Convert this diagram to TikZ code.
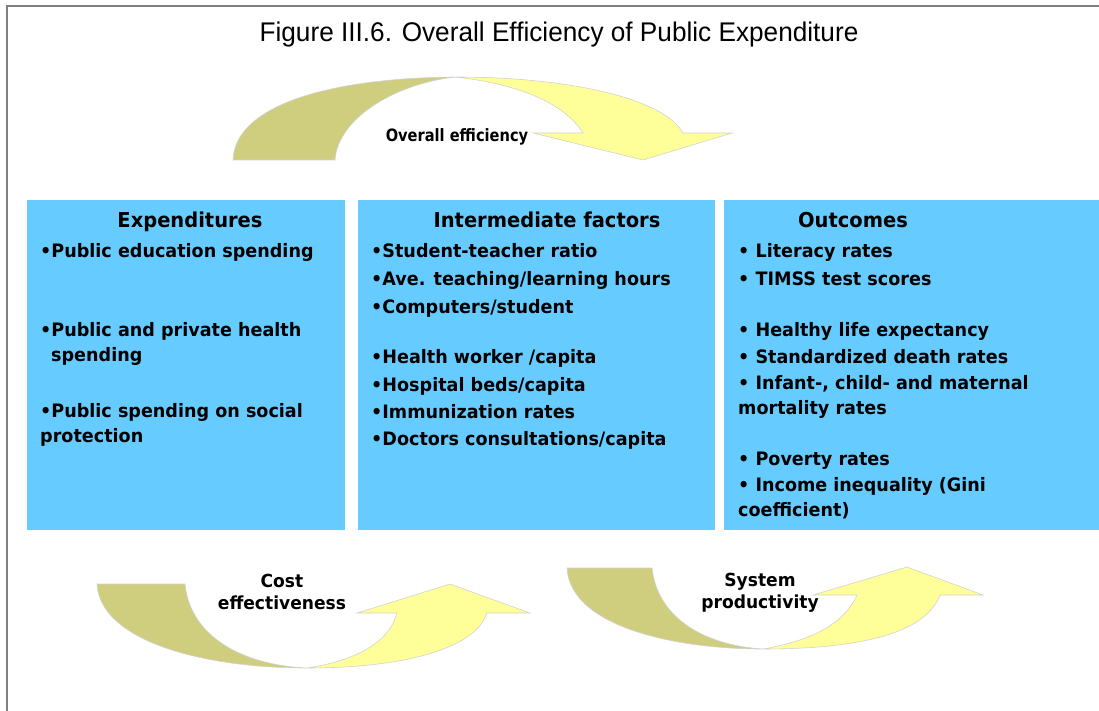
\documentclass[tikz,border=0pt]{standalone}
\usepackage{fontspec}
\setmainfont{Liberation Sans}[FakeStretch=0.97]
\newfontfamily\boxfont[FakeStretch=0.95]{DejaVu Sans}
\newfontfamily\tagfont[FakeStretch=0.86]{DejaVu Sans}
\usetikzlibrary{positioning}

\definecolor{boxblue}{RGB}{102,204,255}
\definecolor{olive}{RGB}{206,206,126}
\definecolor{paleyellow}{RGB}{255,255,153}
\definecolor{framegray}{RGB}{128,128,128}

\tikzset{
  panel/.style={fill=boxblue, draw=none},
  heading/.style={font=\boxfont\bfseries\fontsize{20.5}{24}\selectfont, anchor=base, inner sep=0pt},
  entry/.style={font=\boxfont\bfseries\fontsize{18.5}{24.5}\selectfont, anchor=base west, inner sep=0pt, align=left},
  backband/.style={fill=olive, draw=gray!35, line width=0.6pt},
  frontband/.style={fill=paleyellow, draw=gray!35, line width=0.6pt},
  arrowlabel/.style={font=\boxfont\bfseries\fontsize{18}{22}\selectfont, align=center, inner sep=0pt}
}

\begin{document}
\begin{tikzpicture}[x=1pt, y=-1pt]
  \useasboundingbox (0,0) rectangle (1099,711);

  % frame
  \draw[framegray, line width=2pt] (6.5,711) -- (6.5,6) -- (1099,6);

  % title
  \node[font=\fontsize{27}{32}\selectfont, anchor=base] (title) at (559,42)
    {Figure III.6. Overall Efficiency of Public Expenditure};

  % the three panels
  \fill[panel] (27,200) rectangle (345,530);
  \fill[panel] (358,200) rectangle (715,530);
  \fill[panel] (724,200) rectangle (1099,530);

  \node[heading] (exphead) at (190,228) {Expenditures};
  \node[heading] (inthead) at (547,228) {Intermediate factors};
  \node[heading] (outhead) at (853,228) {Outcomes};

  % Expenditures (two-line entries sit on their last line)
  \node[entry] (e1) at (40,258) {\textbullet Public education spending};
  \node[entry] (e2) at (40,361) {\textbullet Public and private health\\\hspace*{11pt}spending};
  \node[entry] (e3) at (40,442) {\textbullet Public spending on social\\protection};

  % Intermediate factors
  \foreach \y/\txt [count=\i] in {258/{Student-teacher ratio},
      285/{Ave. teaching/learning hours},
      313/{Computers/student},
      363/{Health worker /capita},
      391/{Hospital beds/capita},
      418/{Immunization rates},
      445/{Doctors consultations/capita}} {
    \node[entry] (f\i) at (371,\y) {\textbullet\txt};
  }

  % Outcomes
  \node[entry] (o1) at (738,258) {\textbullet{} Literacy rates};
  \node[entry] (o2) at (738,285) {\textbullet{} TIMSS test scores};
  \node[entry] (o3) at (738,336) {\textbullet{} Healthy life expectancy};
  \node[entry] (o4) at (738,363) {\textbullet{} Standardized death rates};
  \node[entry] (o5) at (738,414) {\textbullet{} Infant-, child- and maternal\\mortality rates};
  \node[entry] (o6) at (738,465) {\textbullet{} Poverty rates};
  \node[entry] (o7) at (738,516) {\textbullet{} Income inequality (Gini\\coefficient)};

  % overall efficiency arrow
  \filldraw[backband] (233,160) .. controls (235,105) and (330,78) .. (455,77)
    .. controls (395,84) and (338,118) .. (335,160) -- cycle;
  \filldraw[frontband] (455,77) .. controls (575,77) and (665,100) .. (683,133)
    -- (732,133) -- (643,160) -- (533,133) -- (583,133)
    .. controls (565,104) and (520,84) .. (455,77) -- cycle;
  \node[arrowlabel, font=\tagfont\bfseries\fontsize{17}{22}\selectfont] (overall) at (457,137) {Overall efficiency};

  % cost effectiveness arrow
  \filldraw[backband] (97,584) .. controls (100,640) and (200,668) .. (307,668)
    .. controls (240,665) and (190,635) .. (185,584) -- cycle;
  \filldraw[frontband] (307,668) .. controls (360,660) and (390,640) .. (397,613)
    -- (357,613) -- (450,584) -- (530,613) -- (487,613)
    .. controls (475,650) and (400,668) .. (307,668) -- cycle;
  \node[arrowlabel] (costeff) at (282,592) {Cost\\effectiveness};

  % system productivity arrow
  \filldraw[backband] (567,568) .. controls (570,625) and (670,649) .. (763,649)
    .. controls (700,645) and (657,615) .. (652,568) -- cycle;
  \filldraw[frontband] (763,649) .. controls (815,640) and (845,622) .. (857,595)
    -- (813,595) -- (907,567) -- (983,595) -- (940,595)
    .. controls (925,635) and (855,649) .. (763,649) -- cycle;
  \node[arrowlabel] (sysprod) at (760,593) {System\\productivity};
\end{tikzpicture}
\end{document}
